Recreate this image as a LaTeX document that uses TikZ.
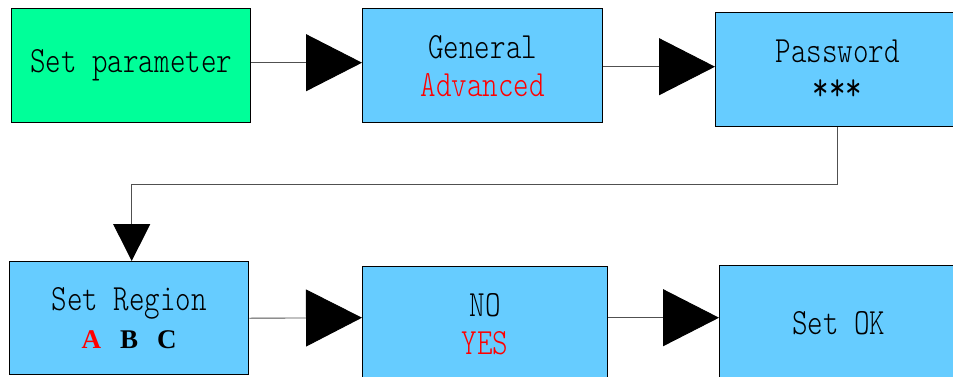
\documentclass[tikz,border=0pt]{standalone}
\usepackage{fontspec}
\usetikzlibrary{arrows.meta}
\newfontfamily\simf[FakeStretch=0.8]{Latin Modern Mono Light}
\newfontfamily\simbold[FakeStretch=0.8]{Latin Modern Mono}
\newfontfamily\serb{Liberation Serif}
\definecolor{boxgreen}{HTML}{00FF99}
\definecolor{boxblue}{HTML}{66CCFF}
\definecolor{linegray}{HTML}{505050}
\tikzset{
  stepbox/.style={draw=black, line width=1.4pt, anchor=north west, inner sep=0pt,
    align=center, font=\simf\fontsize{37pt}{38pt}\selectfont, text=black},
  conn/.style={draw=linegray, line width=0.9pt},
  bighead/.style={-{Triangle[length=56pt,width=57pt,color=black]}},
  smallhead/.style={-{Triangle[length=37pt,width=37pt,color=black]}},
}
\begin{document}
\begin{tikzpicture}[x=1pt,y=-1pt]
\useasboundingbox (0,0) rectangle (953,376);
\clip (0,0) rectangle (953,376);
\node[stepbox, fill=boxgreen, minimum width=239pt, minimum height=114pt] (p1) at (11,8) {Set parameter};
\node[stepbox, fill=boxblue, minimum width=240pt, minimum height=114pt] (p2) at (362,8) {General\\\textcolor{red}{Advanced}};
\node[stepbox, fill=boxblue, minimum width=244pt, minimum height=114pt] (p3) at (715,12) {Password\\{\simbold\fontsize{40pt}{38pt}\selectfont ***}};
\node[stepbox, fill=boxblue, minimum width=239pt, minimum height=113pt] (p4) at (9,261) {Set Region\\[0pt]{\serb\bfseries\fontsize{27pt}{30pt}\selectfont\textcolor{red}{A}\hspace{19pt}B\hspace{19pt}C}};
\node[stepbox, fill=boxblue, minimum width=245pt, minimum height=114pt] (p5) at (362,266) {NO\\\textcolor{red}{YES}};
\node[stepbox, fill=boxblue, minimum width=238pt, minimum height=114pt] (p6) at (719,265) {Set OK};
\draw[conn, bighead] ([yshift=3pt]p1.east) -- ([yshift=3pt]p2.west);
\draw[conn, bighead] ([yshift=-1pt]p2.east) -- ([yshift=3pt]p3.west);
\draw[conn, smallhead] (p3.south) -- ++(0,57) -| ([xshift=2.5pt]p4.north);
\draw[conn, bighead] (p4.east) -- ([yshift=6pt]p5.west);
\draw[conn, bighead] ([yshift=6pt]p5.east) -- ([yshift=5pt]p6.west);
\end{tikzpicture}
\end{document}
